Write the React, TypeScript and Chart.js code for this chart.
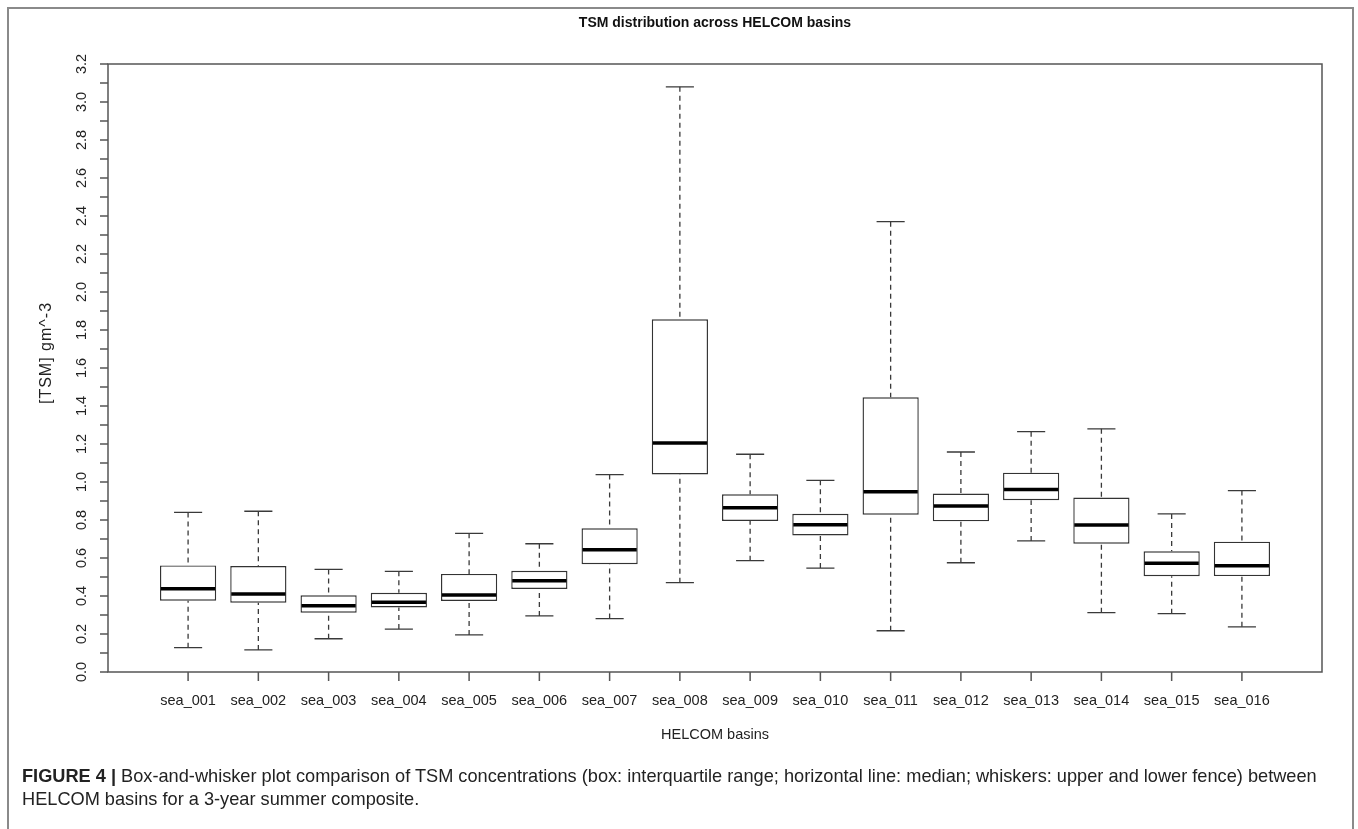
import React, { useEffect, useRef } from "react";
import { Chart, registerables } from "chart.js";

Chart.register(...registerables);

const CATEGORIES = [
  "sea_001", "sea_002", "sea_003", "sea_004", "sea_005", "sea_006", "sea_007", "sea_008",
  "sea_009", "sea_010", "sea_011", "sea_012", "sea_013", "sea_014", "sea_015", "sea_016",
];
const LOWER_FENCE = [0.128, 0.116, 0.175, 0.226, 0.195, 0.295, 0.281, 0.47, 0.586, 0.547, 0.217, 0.575, 0.69, 0.312, 0.307, 0.238];
const Q1 = [0.375, 0.365, 0.312, 0.34, 0.374, 0.437, 0.567, 1.04, 0.795, 0.719, 0.828, 0.793, 0.904, 0.675, 0.504, 0.505];
const MEDIAN = [0.438, 0.41, 0.349, 0.367, 0.405, 0.48, 0.644, 1.205, 0.865, 0.775, 0.949, 0.874, 0.96, 0.774, 0.573, 0.559];
const Q3 = [0.561, 0.558, 0.404, 0.417, 0.516, 0.533, 0.756, 1.856, 0.935, 0.833, 1.446, 0.939, 1.049, 0.918, 0.635, 0.686];
const UPPER_FENCE = [0.84, 0.846, 0.54, 0.53, 0.73, 0.675, 1.039, 3.08, 1.146, 1.009, 2.37, 1.158, 1.265, 1.28, 0.832, 0.955];

const Y_TICK_VALUES = [
  0.0, 0.1, 0.2, 0.3, 0.4, 0.5, 0.6, 0.7, 0.8, 0.9, 1.0, 1.1, 1.2, 1.3, 1.4, 1.5, 1.6,
  1.7, 1.8, 1.9, 2.0, 2.1, 2.2, 2.3, 2.4, 2.5, 2.6, 2.7, 2.8, 2.9, 3.0, 3.1, 3.2,
];
const Y_LABEL_VALUES = [0.0, 0.2, 0.4, 0.6, 0.8, 1.0, 1.2, 1.4, 1.6, 1.8, 2.0, 2.2, 2.4, 2.6, 2.8, 3.0, 3.2];

const TITLE = "TSM distribution across HELCOM basins";
const X_TITLE = "HELCOM basins";
const Y_TITLE = "[TSM] gm^-3";

const FONT = '"Liberation Sans", Arial, sans-serif';

const boxPlugin = {
  id: "boxParts",
  beforeDraw(chart: any) {
    const { ctx, width, height } = chart;
    ctx.save();
    ctx.fillStyle = "#ffffff";
    ctx.fillRect(0, 0, width, height);
    ctx.restore();
  },
  afterDatasetsDraw(chart: any) {
    const { ctx } = chart;
    const y = chart.scales.y;
    const meta = chart.getDatasetMeta(0);
    meta.data.forEach((bar: any, i: number) => {
      const cx = bar.x;
      const w = bar.width;
      const cap = w / 4;
      const yU = y.getPixelForValue(UPPER_FENCE[i]);
      const yL = y.getPixelForValue(LOWER_FENCE[i]);
      const y3 = y.getPixelForValue(Q3[i]);
      const y1 = y.getPixelForValue(Q1[i]);
      const yM = y.getPixelForValue(MEDIAN[i]);
      ctx.save();
      ctx.strokeStyle = "#3a3a3a";
      ctx.lineWidth = 1.3;
      ctx.setLineDash([5, 4]);
      ctx.beginPath();
      ctx.moveTo(cx, yU);
      ctx.lineTo(cx, y3);
      ctx.moveTo(cx, yL);
      ctx.lineTo(cx, y1);
      ctx.stroke();
      ctx.setLineDash([]);
      ctx.beginPath();
      ctx.moveTo(cx - cap, yU);
      ctx.lineTo(cx + cap, yU);
      ctx.moveTo(cx - cap, yL);
      ctx.lineTo(cx + cap, yL);
      ctx.stroke();
      ctx.strokeStyle = "#000000";
      ctx.lineWidth = 3.5;
      ctx.beginPath();
      ctx.moveTo(cx - w / 2 + 1, yM);
      ctx.lineTo(cx + w / 2 - 1, yM);
      ctx.stroke();
      ctx.restore();
    });
  },
  afterDraw(chart: any) {
    const { ctx, chartArea: a } = chart;
    const x = chart.scales.x;
    const y = chart.scales.y;
    ctx.save();
    // plot frame
    ctx.strokeStyle = "#555555";
    ctx.lineWidth = 1.5;
    ctx.strokeRect(a.left, a.top, a.right - a.left, a.bottom - a.top);

    // y ticks
    ctx.beginPath();
    Y_TICK_VALUES.forEach((v) => {
      const py = y.getPixelForValue(v);
      ctx.moveTo(a.left, py);
      ctx.lineTo(a.left - 8, py);
    });
    // x ticks
    CATEGORIES.forEach((_, i) => {
      const px = x.getPixelForValue(i + 1);
      ctx.moveTo(px, a.bottom);
      ctx.lineTo(px, a.bottom + 9);
    });
    ctx.stroke();

    ctx.fillStyle = "#222222";
    ctx.font = `14.5px ${FONT}`;
    ctx.textAlign = "center";
    ctx.textBaseline = "middle";
    Y_LABEL_VALUES.forEach((v) => {
      const py = y.getPixelForValue(v);
      ctx.save();
      ctx.translate(82, py);
      ctx.rotate(-Math.PI / 2);
      ctx.fillText(v.toFixed(1), 0, 0);
      ctx.restore();
    });
    CATEGORIES.forEach((c, i) => {
      const px = x.getPixelForValue(i + 1);
      ctx.fillText(c, px, 701);
    });

    const cxArea = (a.left + a.right) / 2;
    ctx.fillText(X_TITLE, cxArea, 735);
    ctx.save();
    ctx.translate(47, 353);
    ctx.rotate(-Math.PI / 2);
    ctx.font = `16px ${FONT}`;
    (ctx as any).letterSpacing = "1px";
    ctx.fillText(Y_TITLE, 0, 0);
    (ctx as any).letterSpacing = "0px";
    ctx.restore();

    ctx.fillStyle = "#111111";
    ctx.font = `bold 14px ${FONT}`;
    ctx.fillText(TITLE, cxArea, 23);

    // outer figure frame
    ctx.strokeStyle = "#8a8a8a";
    ctx.lineWidth = 2;
    ctx.beginPath();
    ctx.moveTo(8, chart.height);
    ctx.lineTo(8, 8);
    ctx.lineTo(1353, 8);
    ctx.lineTo(1353, chart.height);
    ctx.stroke();
    ctx.restore();
  },
};

export default function App() {
  const canvasRef = useRef<HTMLCanvasElement | null>(null);

  useEffect(() => {
    const canvas = canvasRef.current;
    if (!canvas) return;
    const chart = new Chart(canvas, {
      type: "bar",
      data: {
        datasets: [
          {
            label: "IQR",
            data: CATEGORIES.map((_, i) => ({ x: i + 1, y: [Q1[i], Q3[i]] })) as any,
            backgroundColor: "#ffffff",
            borderColor: "#333333",
            borderWidth: 1.4,
            borderSkipped: false,
            barPercentage: 0.8,
            categoryPercentage: 1.0,
          },
        ],
      },
      options: {
        responsive: false,
        animation: false,
        layout: { padding: { left: 108, right: 1358 - 1322, top: 64, bottom: 829 - 672 } },
        plugins: { legend: { display: false }, tooltip: { enabled: false }, title: { display: false } },
        scales: {
          x: {
            type: "linear",
            display: false,
            offset: false,
            min: -0.14,
            max: 17.14,
            afterBuildTicks: (scale: any) => {
              scale.ticks = CATEGORIES.map((_, i) => ({ value: i + 1 }));
            },
          },
          y: {
            type: "linear",
            display: false,
            min: 0,
            max: 3.2,
          },
        },
      },
      plugins: [boxPlugin],
    });
    return () => chart.destroy();
  }, []);

  return (
    <div style={{ position: "fixed", left: 0, top: 0, width: 1358, height: 829, background: "#fff" }}>
      <canvas ref={canvasRef} width={1358} height={829} style={{ position: "absolute", left: 0, top: 0 }} />
      <div
        style={{
          position: "absolute",
          left: 22,
          top: 765,
          fontFamily: FONT,
          fontSize: 18.2,
          lineHeight: "23px",
          color: "#222",
          whiteSpace: "nowrap",
        }}
      >
        <b>FIGURE 4 |</b> Box-and-whisker plot comparison of TSM concentrations (box: interquartile range; horizontal line: median; whiskers: upper and lower fence) between
        <br />
        HELCOM basins for a 3-year summer composite.
      </div>
    </div>
  );
}
